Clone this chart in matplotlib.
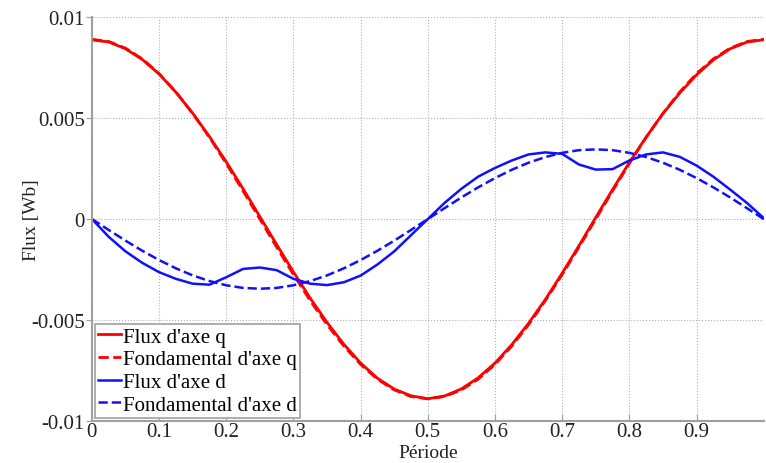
import matplotlib
matplotlib.use("Agg")
import matplotlib.pyplot as plt

plt.rcParams["font.family"] = ["Liberation Serif", "DejaVu Serif"]

# Data (period 0..1, step 0.025)
periode = [i * 0.025 for i in range(41)]

flux_q = [0.00887, 0.00877, 0.00843, 0.00790, 0.00718, 0.00628, 0.00524, 0.00408,
          0.00283, 0.00150, 0.00012, -0.00126, -0.00262, -0.00392, -0.00512,
          -0.00620, -0.00713, -0.00788, -0.00842, -0.00875, -0.00890,
          -0.00876, -0.00841, -0.00786, -0.00713, -0.00622, -0.00516, -0.00398,
          -0.00268, -0.00132, 0.00008, 0.00146, 0.00280, 0.00406, 0.00522,
          0.00624, 0.00714, 0.00788, 0.00843, 0.00876, 0.00888]

fond_q = [0.00890, 0.00879, 0.00846, 0.00793, 0.00720, 0.00629, 0.00523, 0.00404,
          0.00275, 0.00139, 0.0, -0.00139, -0.00275, -0.00404, -0.00523,
          -0.00629, -0.00720, -0.00793, -0.00846, -0.00879, -0.00890,
          -0.00879, -0.00846, -0.00793, -0.00720, -0.00629, -0.00523, -0.00404,
          -0.00275, -0.00139, 0.0, 0.00139, 0.00275, 0.00404, 0.00523,
          0.00629, 0.00720, 0.00793, 0.00846, 0.00879, 0.00890]

flux_d = [0.0, -0.00088, -0.00160, -0.00217, -0.00263, -0.00296, -0.00320, -0.00325,
          -0.00288, -0.00247, -0.00240, -0.00253, -0.00296, -0.00320, -0.00327,
          -0.00313, -0.00280, -0.00225, -0.00160, -0.00080, 0.0,
          0.00080, 0.00150, 0.00210, 0.00253, 0.00290, 0.00320, 0.00330,
          0.00323, 0.00270, 0.00245, 0.00247, 0.00290, 0.00320, 0.00330,
          0.00308, 0.00265, 0.00210, 0.00146, 0.00080, 0.00005]

fond_d = [0.0, -0.00054, -0.00107, -0.00157, -0.00203, -0.00244, -0.00279, -0.00307,
          -0.00328, -0.00341, -0.00345, -0.00341, -0.00328, -0.00307, -0.00279,
          -0.00244, -0.00203, -0.00157, -0.00107, -0.00054, 0.0,
          0.00054, 0.00107, 0.00157, 0.00203, 0.00244, 0.00279, 0.00307,
          0.00328, 0.00341, 0.00345, 0.00341, 0.00328, 0.00307, 0.00279,
          0.00244, 0.00203, 0.00157, 0.00107, 0.00054, 0.0]

fig = plt.figure(figsize=(7.66, 4.64), dpi=100)
ax = fig.add_axes([0.120, 0.0905, 0.877, 0.8705])

ax.plot(periode, flux_q, color="#ff0000", lw=2.0, label="Flux d'axe q")
ax.plot(periode, fond_q, color="#ff0000", lw=2.0, ls="--", label="Fondamental d'axe q")
ax.plot(periode, flux_d, color="#1010ff", lw=1.8, label="Flux d'axe d")
ax.plot(periode, fond_d, color="#1010ff", lw=1.8, ls="--", label="Fondamental d'axe d")

ax.set_xlim(0, 1)
ax.set_ylim(-0.01, 0.01)
ax.set_xticks([0, 0.1, 0.2, 0.3, 0.4, 0.5, 0.6, 0.7, 0.8, 0.9])
ax.set_xticklabels(["0", "0.1", "0.2", "0.3", "0.4", "0.5", "0.6", "0.7", "0.8", "0.9"])
ax.set_yticks([-0.01, -0.005, 0, 0.005, 0.01])
ax.set_yticklabels(["-0.01", "-0.005", "0", "0.005", "0.01"])

ax.grid(True, ls=":", color="#b0b0b0", lw=0.8)
for s in ["top", "right"]:
    ax.spines[s].set_visible(False)
for s in ["left", "bottom"]:
    ax.spines[s].set_color("#a0a0a0")
    ax.spines[s].set_linewidth(1.5)
ax.tick_params(axis="x", direction="in", colors="#a0a0a0", labelcolor="#222222",
               labelsize=15, length=5, pad=1)
ax.tick_params(axis="y", direction="out", colors="#a0a0a0", labelcolor="#222222",
               labelsize=15, length=4, pad=1)

ax.set_xlabel("Période", fontsize=14, color="#222222", labelpad=2)
ax.set_ylabel("Flux [Wb]", fontsize=14, color="#222222", labelpad=-6)

leg = ax.legend(loc="lower left", fontsize=15, handlelength=1.1, handletextpad=0.1,
                borderaxespad=0.15, borderpad=0.15, labelspacing=0.15,
                fancybox=False, framealpha=1)
leg.get_frame().set_edgecolor("#a0a0a0")
leg.get_frame().set_linewidth(1.2)

fig.savefig("out.png", dpi=100)
